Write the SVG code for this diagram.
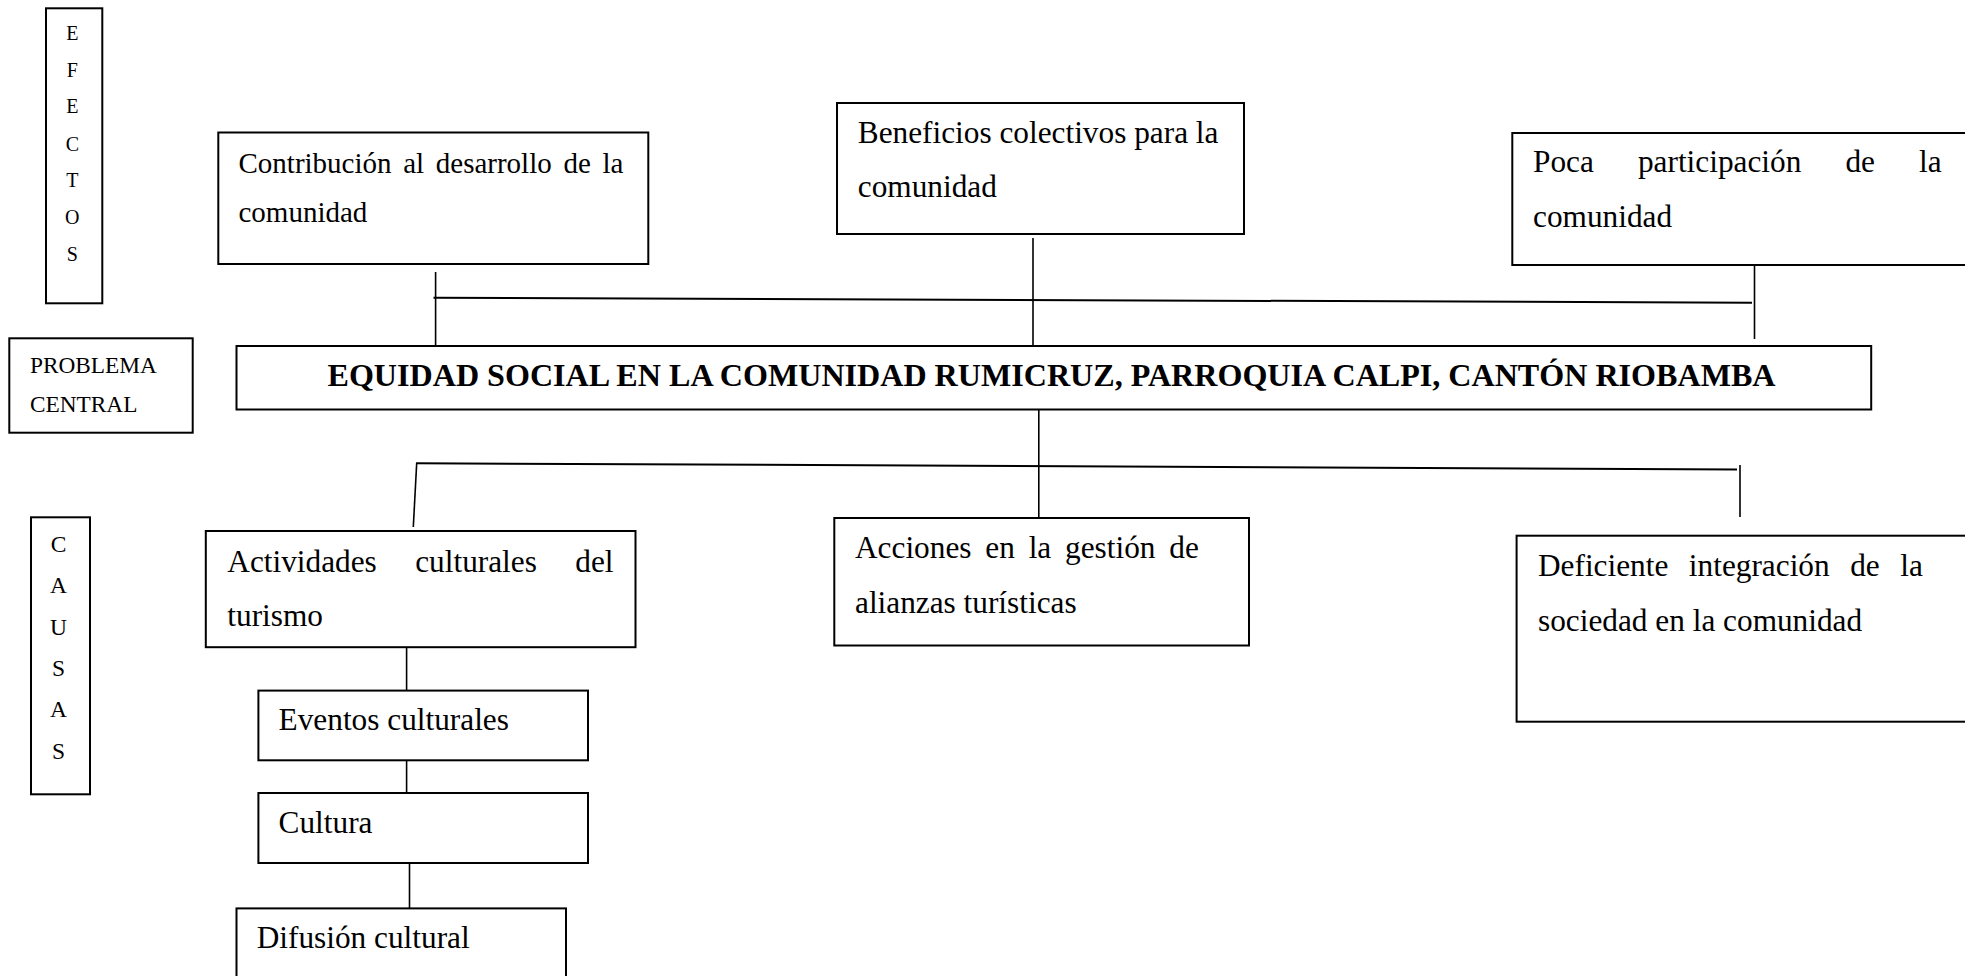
<svg xmlns="http://www.w3.org/2000/svg" width="1965" height="976" viewBox="0 0 1965 976">
<style>
.box{fill:#fff;stroke:#000;stroke-width:2}
.t{font-family:"Liberation Serif","Times New Roman",serif;font-size:31.3px;fill:#000}
.s{font-family:"Liberation Serif","Times New Roman",serif;font-size:23.3px;fill:#000}
.v{font-family:"Liberation Serif","Times New Roman",serif;font-size:20px;fill:#000;text-anchor:middle}
.v2{font-family:"Liberation Serif","Times New Roman",serif;font-size:23.5px;fill:#000;text-anchor:middle}
.b{font-family:"Liberation Serif","Times New Roman",serif;font-size:32px;font-weight:bold;fill:#000}
.c{stroke:#000;stroke-width:1.6;fill:none}
.h{stroke:#000;stroke-width:2;fill:none}
</style>
<rect width="1965" height="976" fill="#fff"/>
<g id="connectors">
<line class="c" x1="435.6" y1="272" x2="435.6" y2="346"/>
<line class="c" x1="1033" y1="238" x2="1033" y2="365"/>
<line class="c" x1="1754.5" y1="259" x2="1754.5" y2="339"/>
<line class="h" x1="433.5" y1="297.7" x2="1752" y2="302.7"/>
<line class="c" x1="1038.8" y1="410" x2="1038.8" y2="517"/>
<line class="h" x1="416" y1="463.2" x2="1737" y2="469.5"/>
<line class="c" x1="416.7" y1="463" x2="413.3" y2="527"/>
<line class="c" x1="1740" y1="465" x2="1740" y2="517"/>
<line class="c" x1="406.6" y1="647" x2="406.6" y2="690"/>
<line class="c" x1="406.6" y1="761" x2="406.6" y2="797"/>
<line class="c" x1="409.5" y1="864" x2="409.5" y2="913"/>
</g>
<g id="efectos">
<rect class="box" x="46" y="8.3" width="56.3" height="295"/>
<text class="v" x="72.3" y="40">E</text>
<text class="v" x="72.3" y="76.5">F</text>
<text class="v" x="72.3" y="113.3">E</text>
<text class="v" x="72.3" y="150.7">C</text>
<text class="v" x="72.3" y="187.3">T</text>
<text class="v" x="72.3" y="224">O</text>
<text class="v" x="72.3" y="260.7">S</text>
</g>
<g id="problema-central">
<rect class="box" x="9.3" y="338.3" width="183.4" height="94.4"/>
<text class="s" x="30" y="372.7">PROBLEMA</text>
<text class="s" x="30" y="412.3">CENTRAL</text>
</g>
<g id="causas">
<rect class="box" x="31" y="517.3" width="59" height="277"/>
<text class="v2" x="58.5" y="551.7">C</text>
<text class="v2" x="58.5" y="593.3">A</text>
<text class="v2" x="58.5" y="635">U</text>
<text class="v2" x="58.5" y="676">S</text>
<text class="v2" x="58.5" y="717.3">A</text>
<text class="v2" x="58.5" y="759">S</text>
</g>
<g id="contribucion">
<rect class="box" x="218.3" y="132.5" width="430" height="131.5"/>
<text class="t" x="238.5" y="172.7" style="font-size:29px;word-spacing:4.4px">Contribución al desarrollo de la</text>
<text class="t" x="238.5" y="221.7" style="font-size:29px">comunidad</text>
</g>
<g id="beneficios">
<rect class="box" x="837" y="103" width="407" height="131"/>
<text class="t" x="857.8" y="142.7">Beneficios colectivos para la</text>
<text class="t" x="857.8" y="197.3">comunidad</text>
</g>
<g id="poca">
<rect class="box" x="1512.3" y="133" width="470" height="132"/>
<text class="t" x="1533" y="171.7" style="word-spacing:36.3px">Poca participación de la</text>
<text class="t" x="1533" y="226.7">comunidad</text>
</g>
<g id="central">
<rect class="box" x="236.5" y="346" width="1634.7" height="63.5"/>
<text class="b" x="327.5" y="385.7" textLength="1448" lengthAdjust="spacingAndGlyphs">EQUIDAD SOCIAL EN LA COMUNIDAD RUMICRUZ, PARROQUIA CALPI, CANTÓN RIOBAMBA</text>
</g>
<g id="actividades">
<rect class="box" x="205.8" y="531" width="429.7" height="116.2"/>
<text class="t" x="227.3" y="571.6" style="word-spacing:30.6px">Actividades culturales del</text>
<text class="t" x="227.3" y="626.3">turismo</text>
</g>
<g id="acciones">
<rect class="box" x="834.3" y="518" width="414.7" height="127.5"/>
<text class="t" x="855" y="557.5" style="word-spacing:6px">Acciones en la gestión de</text>
<text class="t" x="855" y="612.7">alianzas turísticas</text>
</g>
<g id="deficiente">
<rect class="box" x="1516.6" y="535.7" width="460" height="186"/>
<text class="t" x="1538" y="576" style="word-spacing:12.7px">Deficiente integración de la</text>
<text class="t" x="1538" y="630.7">sociedad en la comunidad</text>
</g>
<g id="eventos">
<rect class="box" x="258.4" y="690.6" width="329.6" height="69.7"/>
<text class="t" x="278.6" y="730">Eventos culturales</text>
</g>
<g id="cultura">
<rect class="box" x="258.4" y="793" width="329.6" height="70"/>
<text class="t" x="278.6" y="833">Cultura</text>
</g>
<g id="difusion">
<rect class="box" x="236.5" y="908.4" width="329.5" height="80"/>
<text class="t" x="256.7" y="947.7">Difusión cultural</text>
</g>
</svg>
